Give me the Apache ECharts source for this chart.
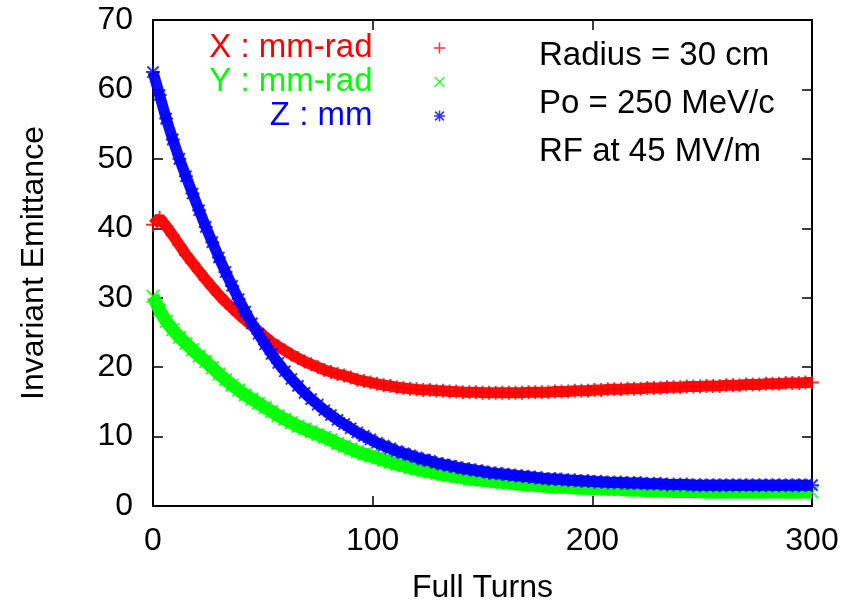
<!DOCTYPE html>
<html>
<head>
<meta charset="utf-8">
<script src="https://cdn.jsdelivr.net/npm/echarts@6/dist/echarts.min.js"></script>
<style>html,body{margin:0;padding:0;background:#fff}#c{width:844px;height:605px}</style>
</head>
<body>
<div id="c"></div>
<script>
// Turn numbers (sample grid) and emittance values
const turns = [0,3,6,9,12,15,18,21,24,27,30,33,36,39,42,45,48,51,54,57,60,63,66,69,72,75,78,81,84,87,90,93,96,99,102,105,108,111,114,117,120,123,126,129,132,135,138,141,144,147,150,153,156,159,162,165,168,171,174,177,180,183,186,189,192,195,198,201,204,207,210,213,216,219,222,225,228,231,234,237,240,243,246,249,252,255,258,261,264,267,270,273,276,279,282,285,288,291,294,297,300];
const xEmit = [40.5,41.5,40.3,39.0,37.6,36.2,35.0,33.8,32.6,31.5,30.4,29.4,28.5,27.6,26.8,26.0,25.2,24.4,23.6,23.0,22.4,21.8,21.3,20.8,20.4,20.0,19.6,19.3,19.0,18.8,18.5,18.2,18.0,17.8,17.6,17.4,17.3,17.1,17.0,16.9,16.8,16.7,16.7,16.6,16.6,16.5,16.5,16.4,16.4,16.4,16.3,16.3,16.3,16.3,16.3,16.3,16.3,16.4,16.4,16.4,16.4,16.5,16.5,16.5,16.6,16.6,16.6,16.7,16.7,16.8,16.8,16.8,16.9,16.9,16.9,17.0,17.0,17.0,17.1,17.1,17.1,17.2,17.2,17.2,17.3,17.3,17.3,17.4,17.4,17.4,17.5,17.5,17.5,17.6,17.6,17.6,17.7,17.7,17.7,17.8,17.8];
const yEmit = [30.2,28.2,26.6,25.4,24.3,23.4,22.5,21.6,20.8,19.9,19.0,18.2,17.4,16.7,16.0,15.4,14.8,14.2,13.6,13.0,12.5,12.0,11.5,11.1,10.7,10.3,9.9,9.5,9.0,8.6,8.2,7.8,7.5,7.2,6.9,6.6,6.3,6.0,5.8,5.5,5.3,5.1,4.9,4.7,4.5,4.4,4.2,4.1,3.9,3.8,3.7,3.6,3.5,3.4,3.3,3.2,3.1,3.0,3.0,2.9,2.8,2.8,2.7,2.7,2.6,2.6,2.5,2.5,2.5,2.4,2.4,2.4,2.3,2.3,2.3,2.2,2.2,2.2,2.2,2.1,2.1,2.1,2.1,2.1,2.0,2.0,2.0,2.0,2.0,2.0,2.0,2.0,2.0,2.0,2.0,2.0,2.0,2.0,2.0,2.0,2.0];
const zEmit = [62.5,59.2,55.8,52.8,50.0,47.5,45.0,42.6,40.2,38.0,35.8,33.7,31.7,29.8,28.0,26.3,24.8,23.3,21.9,20.6,19.4,18.3,17.3,16.3,15.4,14.6,13.8,13.1,12.4,11.8,11.2,10.6,10.1,9.6,9.1,8.7,8.3,7.9,7.6,7.3,7.0,6.7,6.5,6.2,6.0,5.8,5.6,5.4,5.3,5.1,5.0,4.8,4.7,4.6,4.5,4.4,4.3,4.2,4.1,4.0,3.9,3.9,3.8,3.7,3.7,3.6,3.6,3.5,3.5,3.4,3.4,3.4,3.3,3.3,3.3,3.2,3.2,3.2,3.1,3.1,3.1,3.1,3.0,3.0,3.0,3.0,3.0,3.0,3.0,3.0,3.0,3.0,3.0,3.0,3.0,3.0,3.0,3.0,3.0,3.0,3.0];
const seriesNames = ['X : mm-rad', 'Y : mm-rad', 'Z : mm'];
const seriesColors = ['#ff0000', '#00ff00', '#0000ff'];
const xTicks = [0, 100, 200, 300];
const yTicks = [0, 10, 20, 30, 40, 50, 60, 70];
const notes = ['Radius = 30 cm', 'Po = 250 MeV/c', 'RF at 45 MV/m'];

const FONT = '"Liberation Sans", Arial, sans-serif';
const PLUS = 'path://M4.3,0h1.4v10h-1.4zM0,4.3h10v1.4h-10z';
const CROSS = 'path://M0,0.99L0.99,0L10,9.01L9.01,10ZM9.01,0L10,0.99L0.99,10L0,9.01Z';
const STAR = 'path://M4.3,0h1.4v10h-1.4zM0,4.3h10v1.4h-10zM0.5,1.49L1.49,0.5L9.5,8.51L8.51,9.5ZM8.51,0.5L9.5,1.49L1.49,9.5L0.5,8.51Z';
const symbols = [PLUS, CROSS, STAR];
const bandWidths = [11, 13, 11];
const allValues = [xEmit, yEmit, zEmit];

const chart = echarts.init(document.getElementById('c'), null, {renderer: 'canvas'});
const series = [];
allValues.forEach(function (vals, i) {
  const data = turns.map(function (t, k) { return [t, vals[k]]; });
  series.push({
    type: 'line', name: seriesNames[i] + ' band', data: data, showSymbol: false,
    lineStyle: {color: seriesColors[i], width: bandWidths[i], opacity: 0.95},
    silent: true, z: 2 + i * 2
  });
  series.push({
    type: 'scatter', name: seriesNames[i], data: data, symbol: symbols[i], symbolSize: 14,
    symbolKeepAspect: true,
    itemStyle: {color: seriesColors[i]}, z: 3 + i * 2
  });
});

const axisCommon = {
  axisLine: {show: true, onZero: false, lineStyle: {color: '#000', width: 2}},
  axisTick: {show: true, inside: true, length: 10, lineStyle: {color: '#000', width: 1.5}},
  splitLine: {show: false}
};

chart.setOption({
  animation: false,
  backgroundColor: '#fff',
  grid: {left: 153, right: 32, top: 20, bottom: 99, containLabel: false, outerBoundsMode: 'none'},
  xAxis: [
    Object.assign({type: 'value', min: xTicks[0], max: xTicks[xTicks.length - 1], interval: 100, position: 'bottom',
      axisLabel: {color: '#000', fontSize: 32, fontFamily: FONT, margin: 19},
      name: 'Full Turns', nameLocation: 'middle', nameGap: 66,
      nameTextStyle: {color: '#000', fontSize: 32, fontFamily: FONT}}, axisCommon),
    Object.assign({type: 'value', min: xTicks[0], max: xTicks[xTicks.length - 1], interval: 100, position: 'top',
      axisLabel: {show: false}}, axisCommon)
  ],
  yAxis: [
    Object.assign({type: 'value', min: yTicks[0], max: yTicks[yTicks.length - 1], interval: 10, position: 'left',
      axisLabel: {color: '#000', fontSize: 32, fontFamily: FONT, margin: 20},
      name: 'Invariant Emittance', nameLocation: 'middle', nameGap: 103,
      nameTextStyle: {color: '#000', fontSize: 32, fontFamily: FONT}}, axisCommon),
    Object.assign({type: 'value', min: yTicks[0], max: yTicks[yTicks.length - 1], interval: 10, position: 'right',
      axisLabel: {show: false}}, axisCommon)
  ],
  legend: {
    orient: 'vertical', align: 'right', right: 399, top: 31, padding: 0, itemGap: 0,
    itemWidth: 124, itemHeight: 11, selectedMode: false,
    textStyle: {fontSize: 33, fontFamily: FONT, lineHeight: 34},
    data: seriesNames.map(function (n, i) {
      return {name: n, icon: symbols[i], textStyle: {color: seriesColors[i]}};
    })
  },
  graphic: [{
    type: 'text', left: 539, top: 32,
    style: {text: notes.join('\n'), font: '33px ' + FONT, lineHeight: 48, fill: '#000'}
  }],
  series: series
});
</script>
</body>
</html>
